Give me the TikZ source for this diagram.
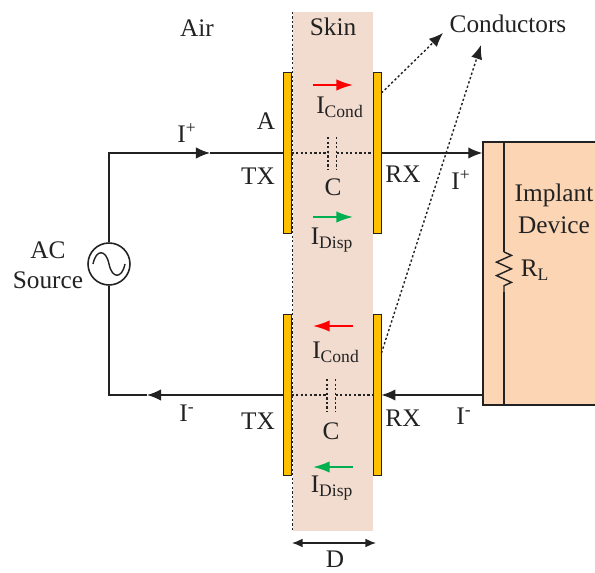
\documentclass[tikz,border=0pt]{standalone}
\usepackage{fontspec}
\setmainfont{Liberation Serif}
\usetikzlibrary{arrows.meta,decorations.pathmorphing}
\definecolor{skincol}{HTML}{F2DCD0}
\definecolor{implantcol}{HTML}{FCD5B5}
\definecolor{platecol}{HTML}{FFC000}
\definecolor{linecol}{HTML}{222222}
\definecolor{greencol}{HTML}{00B050}
\tikzset{
    lbl/.style={inner sep=0pt, text=linecol, font=\fontsize{14.4}{17}\selectfont},
    wire/.style={draw=linecol, line width=0.8pt},
    dotline/.style={draw=linecol, line width=0.8pt, dash pattern=on 1.3pt off 1.3pt},
    plate/.style={draw=linecol, fill=platecol, line width=0.5pt, inner sep=0pt, minimum width=0.16cm, minimum height=3.22cm},
    tip/.style={-{Latex[length=8pt,width=6.5pt]}},
    flow/.style={line width=1pt, -{Latex[length=9.5pt,width=6.5pt]}}
}
\begin{document}
\begin{tikzpicture}[x=0.02cm,y=-0.02cm]
    \useasboundingbox (0,0) rectangle (595,573);
    \clip (0,0) rectangle (595,573);
    \node[fill=skincol, inner sep=0pt, minimum width=1.6cm, minimum height=10.38cm] (skin) at (333,271.5) {};
    \node[draw=linecol, fill=implantcol, line width=0.8pt, inner sep=0pt, minimum width=4.68cm, minimum height=5.26cm] (implant) at (600,273.5) {};
    \node[circle, draw=linecol, line width=0.9pt, inner sep=0pt, minimum size=0.84cm] (source) at (109,264) {};
    \draw[dotline] (skin.north west) -- (skin.south west);

    % plates, capacitor and wires of the two links
    \foreach \n/\y/\c in {a/153/328,b/395/327}
    {
        \node[plate] (tx\n) at (287,\y) {};
        \node[plate] (rx\n) at (377,\y) {};
        \coordinate (capl\n) at (\c,\y);
        \coordinate (capr\n) at (\c+8.5,\y);
        \draw[dotline] (tx\n.east) -- (capl\n);
        \draw[dotline] (capr\n) -- (rx\n.west);
        \draw[dotline] (capl\n) ++(0,-16) -- ++(0,33);
        \draw[dotline] (capr\n) ++(0,-16) -- ++(0,33);
    }
    \coordinate (ipa) at (210,153);
    \coordinate (ima) at (147,395);
    \draw[wire,tip] (source) |- (ipa);
    \draw[wire] (ipa) -- (txa.west);
    \draw[wire,tip] (rxa.east) -- (rxa -| implant.west);
    \draw[wire,tip] (txb.west) -- (ima);
    \draw[wire] (source) |- (ima);
    \draw[wire,tip] (rxb -| implant.west) -- (rxb.east);

    % source symbol
    \draw[wire] (93,264) .. controls (96,249) and (106,249) .. (109,264) .. controls (112,279) and (122,279) .. (125,264);

    % load
    \coordinate (rl1) at (504,252);
    \coordinate (rl2) at (504,292);
    \draw[wire] (implant.north west -| rl1) -- (rl1);
    \draw[wire] (rl2) -- (implant.south west -| rl2);
    \draw[wire, decorate, decoration={zigzag, amplitude=0.15cm, segment length=0.27cm}] (rl1) -- (rl2);

    % current arrows in the skin
    \foreach \y/\c in {85/red,217/greencol}
        \draw[flow, draw=\c, fill=\c] (313,\y) -- (353,\y);
    \foreach \y/\c in {326/red,467/greencol}
        \draw[flow, draw=\c, fill=\c] (353,\y) -- (313,\y);

    % pointers to the conductors
    \path (rxa.east) ++(0,-60) coordinate (conaa);
    \path (rxb.east) ++(0,-42) coordinate (conbb);
    \coordinate (cona) at (443,33);
    \coordinate (conb) at (481,45);
    \draw[dotline,tip] (conaa) -- (cona);
    \draw[dotline,tip] (conbb) -- (conb);

    % width of the skin
    \coordinate (dl) at (292,543);
    \coordinate (dr) at (376,543);
    \draw[wire, {Latex[length=6pt,width=5pt]}-{Latex[length=6pt,width=5pt]}] (dl) -- (dr);

    \node[lbl] (air) at (197,28) {Air};
    \node[lbl] (skintext) at (333,27) {Skin};
    \node[lbl] (conductors) at (508,24) {Conductors};
    \node[lbl] (areatext) at (266,121) {A};
    \node[lbl] (ipl) at (187,133) {I\textsuperscript{+}};
    \node[lbl] (ipr) at (461,180) {I\textsuperscript{+}};
    \node[lbl] (iml) at (187,413) {I\textsuperscript{-}};
    \node[lbl] (imr) at (464,416) {I\textsuperscript{-}};
    \node[lbl] (txtexta) at (258,176) {TX};
    \node[lbl] (txtextb) at (258,421) {TX};
    \node[lbl] (rxtexta) at (403,174) {RX};
    \node[lbl] (rxtextb) at (403,418) {RX};
    \node[lbl] (ctexta) at (333,187) {C};
    \node[lbl] (ctextb) at (331,431) {C};
    \node[lbl] (conda) at (340,107) {I\textsubscript{Cond}};
    \node[lbl] (condb) at (336,352) {I\textsubscript{Cond}};
    \node[lbl] (dispa) at (332,240) {I\textsubscript{Disp}};
    \node[lbl] (dispb) at (332,488) {I\textsubscript{Disp}};
    \node[lbl] (dtext) at (335,559) {D};
    \node[lbl] (actext) at (48,250) {AC};
    \node[lbl] (sourcetext) at (48,280) {Source};
    \node[lbl] (implanttext) at (554,195) {Implant};
    \node[lbl] (devicetext) at (554,225) {Device};
    \node[lbl] (rltext) at (535,270) {R\textsubscript{L}};
\end{tikzpicture}
\end{document}
